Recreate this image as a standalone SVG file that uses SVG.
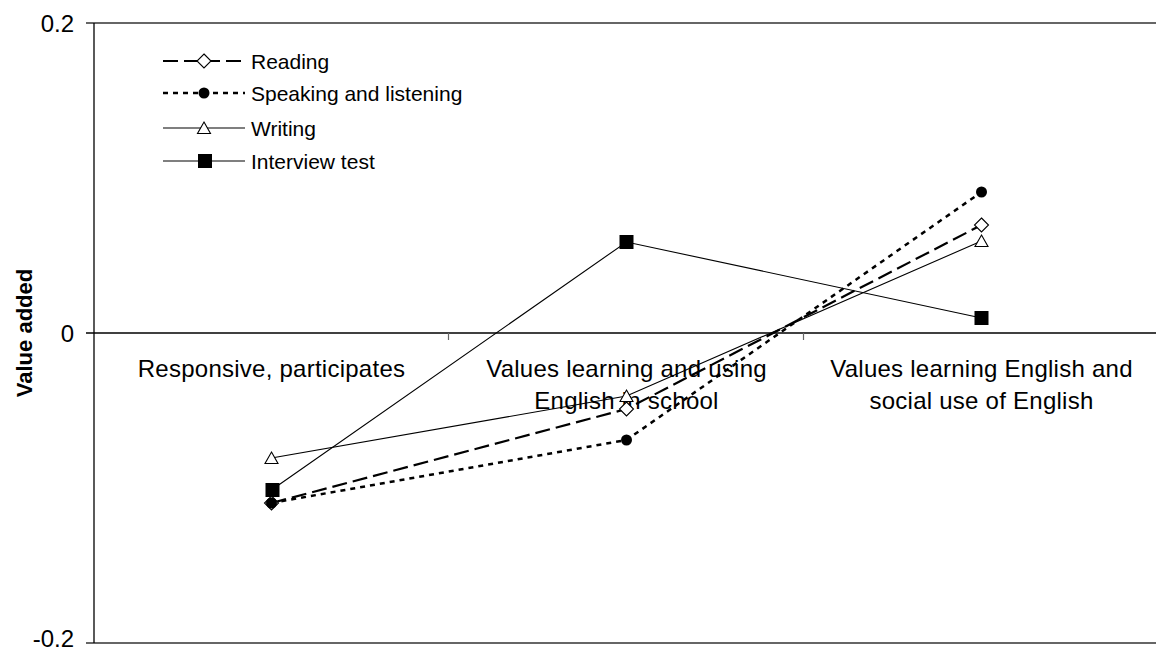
<svg xmlns="http://www.w3.org/2000/svg" xmlns:xlink="http://www.w3.org/1999/xlink" width="1156" height="652" viewBox="0 0 1156 652">
<style>
  text { font-family: "Liberation Sans", Arial, sans-serif; fill: #000; }
  .tick { font-size: 24px; text-anchor: end; }
  .cat { font-size: 24px; text-anchor: middle; letter-spacing: 0.25px; }
  .leg { font-size: 21px; }
  .title { font-size: 22px; font-weight: bold; text-anchor: middle; }
  .grid { stroke: #333; stroke-width: 1.3; fill: none; }
  .axis { stroke: #000; stroke-width: 1.3; fill: none; }
  .ctick { stroke: #666; stroke-width: 1.2; }
  .reading { stroke: #000; stroke-width: 2.2; stroke-dasharray: 15 6; fill: none; }
  .speaking { stroke: #000; stroke-width: 2.5; stroke-dasharray: 5 5; fill: none; }
  .writing { stroke: #000; stroke-width: 1.1; fill: none; }
  .interview { stroke: #000; stroke-width: 1.1; fill: none; }
</style>
<defs>
  <path id="mDiamond" d="M0,-7 L7,0 L0,7 L-7,0 Z" fill="#fff" stroke="#000" stroke-width="1.1"/>
  <circle id="mDot" r="5.5" fill="#000"/>
  <path id="mTri" d="M0,-6 L6.5,5.5 L-6.5,5.5 Z" fill="#fff" stroke="#000" stroke-width="1.1"/>
  <rect id="mSquare" x="-7" y="-7" width="14" height="14" fill="#000"/>
</defs>
<rect width="1156" height="652" fill="#fff"/>

<g id="axes">
  <line class="grid" x1="86" y1="23" x2="1156" y2="23"/>
  <line class="grid" x1="86" y1="643" x2="1156" y2="643"/>
  <line class="axis" x1="86" y1="333" x2="1156" y2="333"/>
  <line class="axis" x1="94" y1="23" x2="94" y2="643"/>
  <line class="ctick" x1="448.5" y1="333" x2="448.5" y2="340"/>
  <line class="ctick" x1="803.5" y1="333" x2="803.5" y2="340"/>
</g>

<g id="y-labels">
  <text class="tick" x="74" y="31.5">0.2</text>
  <text class="tick" x="74" y="341.5">0</text>
  <text class="tick" x="74" y="647">-0.2</text>
  <text class="title" transform="translate(32,333) rotate(-90)">Value added</text>
</g>

<g id="category-labels">
  <text class="cat" x="271.5" y="377">Responsive, participates</text>
  <text class="cat" x="626.5" y="377">Values learning and using</text>
  <text class="cat" x="626.5" y="409">English in school</text>
  <text class="cat" x="981.5" y="377">Values learning English and</text>
  <text class="cat" x="981.5" y="409">social use of English</text>
</g>

<g id="series-reading">
  <polyline class="reading" points="271.5,503 626.5,409 981.5,225"/>
</g>
<g id="series-speaking">
  <polyline class="speaking" points="271.5,503 626.5,440 981.5,192"/>
</g>
<g id="series-writing">
  <polyline class="writing" points="271.5,458 626.5,396 981.5,241"/>
</g>
<g id="series-interview">
  <polyline class="interview" points="271.5,490 626.5,242 981.5,318"/>
</g>

<g id="markers">
  <use xlink:href="#mDiamond" x="271.5" y="503"/>
  <use xlink:href="#mDiamond" x="626.5" y="409"/>
  <use xlink:href="#mDiamond" x="981.5" y="225"/>
  <use xlink:href="#mDot" x="271.5" y="503"/>
  <use xlink:href="#mDot" x="626.5" y="440"/>
  <use xlink:href="#mDot" x="981.5" y="192"/>
  <use xlink:href="#mTri" x="271.5" y="458"/>
  <use xlink:href="#mTri" x="626.5" y="396"/>
  <use xlink:href="#mTri" x="981.5" y="241"/>
  <use xlink:href="#mSquare" x="272.5" y="490"/>
  <use xlink:href="#mSquare" x="626.5" y="242"/>
  <use xlink:href="#mSquare" x="981.5" y="318"/>
</g>

<g id="legend">
  <g id="legend-reading">
    <line class="reading" x1="163" y1="61" x2="245" y2="61"/>
    <use xlink:href="#mDiamond" x="204" y="61"/>
    <text class="leg" x="251" y="69">Reading</text>
  </g>
  <g id="legend-speaking">
    <line class="speaking" x1="163" y1="93" x2="245" y2="93"/>
    <use xlink:href="#mDot" x="204" y="93"/>
    <text class="leg" x="251" y="101">Speaking and listening</text>
  </g>
  <g id="legend-writing">
    <line class="writing" x1="163" y1="128" x2="245" y2="128"/>
    <use xlink:href="#mTri" x="204" y="128"/>
    <text class="leg" x="251" y="136">Writing</text>
  </g>
  <g id="legend-interview">
    <line class="interview" x1="163" y1="161" x2="245" y2="161"/>
    <use xlink:href="#mSquare" x="205" y="161"/>
    <text class="leg" x="251" y="168.5">Interview  test</text>
  </g>
</g>
</svg>
